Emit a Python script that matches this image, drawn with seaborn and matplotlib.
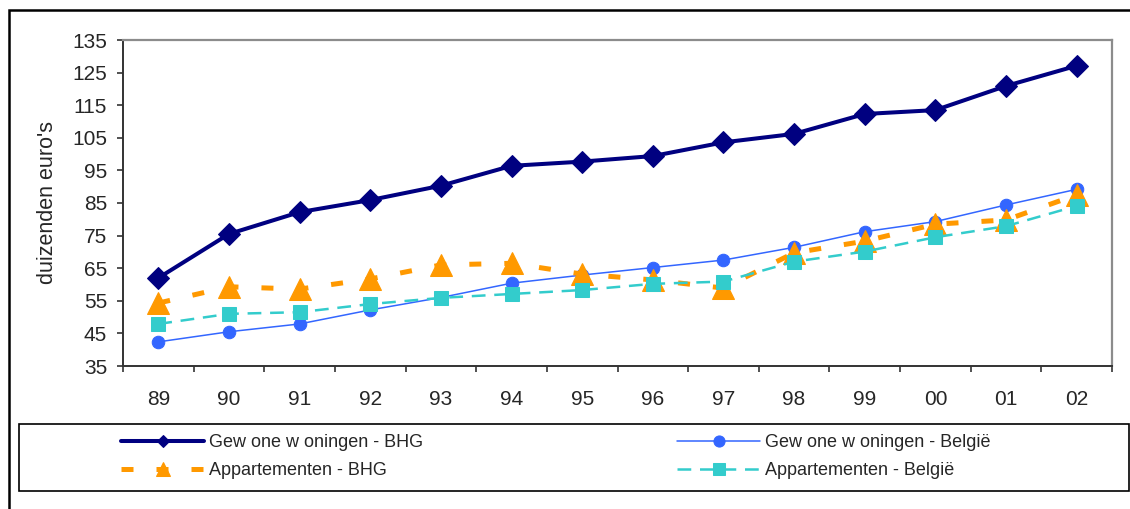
import pandas as pd
import seaborn as sns
import matplotlib.pyplot as plt
from matplotlib.patches import Rectangle

# Chart values
years = ["89", "90", "91", "92", "93", "94", "95", "96", "97", "98", "99", "00", "01", "02"]
houses_bhg = [62.0, 75.5, 82.2, 85.9, 90.3, 96.4, 97.7, 99.4, 103.6, 106.2, 112.3, 113.5, 120.9, 127.1]
houses_be = [42.4, 45.5, 47.9, 52.2, 56.0, 60.4, 62.9, 65.2, 67.5, 71.4, 76.2, 79.3, 84.4, 89.2]
apt_bhg = [54.3, 59.3, 58.6, 61.7, 66.0, 66.5, 63.2, 61.4, 58.9, 69.7, 73.3, 78.5, 79.8, 87.5]
apt_be = [47.9, 51.0, 51.5, 54.0, 55.9, 57.1, 58.3, 60.2, 60.9, 67.0, 70.1, 74.5, 77.9, 84.1]

labels = [
    "Gew one w oningen - BHG",
    "Gew one w oningen - België",
    "Appartementen - BHG",
    "Appartementen - België",
]
yticks = list(range(35, 136, 10))

df = pd.DataFrame({
    "jaar": years,
    "houses_bhg": houses_bhg,
    "houses_be": houses_be,
    "apt_bhg": apt_bhg,
    "apt_be": apt_be,
})

sns.set_style("white")
plt.rcParams["font.family"] = ["Liberation Sans", "DejaVu Sans"]

fig = plt.figure(figsize=(11.3, 5.09), dpi=100)
ax = fig.add_axes([123 / 1130, 1 - 366 / 509, (1112 - 123) / 1130, (366 - 40) / 509])

# series styles: column, colour, marker, size, line width, dashes, legend marker size
styles = [
    ("houses_bhg", "#000080", "D", 11.5, 2.9, None, 6.6),
    ("houses_be", "#3366FF", "o", 9.0, 1.1, None, 8.0),
    ("apt_bhg", "#FF9900", "^", 16, 3.6, (2.4, 4.6), 10.5),
    ("apt_be", "#33CCCC", "s", 10.5, 1.8, (5.5, 3.5), 8.5),
]

lines = {}
for (col, color, marker, ms, lw, dash, _), lab in zip(styles, labels):
    sns.lineplot(
        data=df, x="jaar", y=col, ax=ax, sort=False, legend=False,
        color=color, marker=marker, markersize=ms, linewidth=lw,
        markeredgecolor=color, markerfacecolor=color, label=lab,
    )
    line = ax.lines[-1]
    if dash is not None:
        line.set_dashes(dash)
    lines[col] = line

# axes
ax.set_ylim(35, 135)
ax.set_yticks(yticks)
ax.set_xlim(-0.5, len(years) - 0.5)
ax.set_xticks(range(len(years)))
ax.set_xticklabels(years)
ax.set_xticks([i - 0.5 for i in range(len(years) + 1)], minor=True)
ax.tick_params(axis="x", which="major", length=0, pad=17, labelsize=15)
ax.tick_params(axis="x", which="minor", length=4.5, width=1.2, color="#333333", direction="out", bottom=True)
ax.tick_params(axis="y", length=4.5, width=1.2, color="#333333", direction="out", left=True, pad=7, labelsize=15)
ax.set_xlabel("")
ax.set_ylabel("duizenden euro's", fontsize=15.5, labelpad=10)

for side in ["left", "bottom"]:
    ax.spines[side].set_color("#333333")
    ax.spines[side].set_linewidth(1.4)
for side in ["top", "right"]:
    ax.spines[side].set_color("#8c8c8c")
    ax.spines[side].set_linewidth(1.6)

# legend: two columns placed separately, frame drawn as a patch
legend_font = {"family": ["Liberation Sans"], "size": 13}
leg_kw = dict(
    loc="upper left", frameon=False, prop=legend_font, handlelength=4.6,
    handletextpad=0.25, borderpad=0, borderaxespad=0, labelspacing=0.6,
)
leg_size = {s[0]: s[6] for s in styles}
for cols, labs, x0 in [(["houses_bhg", "apt_bhg"], [labels[0], labels[2]], 121),
                       (["houses_be", "apt_be"], [labels[1], labels[3]], 677)]:
    leg = fig.legend([lines[c] for c in cols], labs,
                     bbox_to_anchor=(x0 / 1130, 1 - 434 / 509), **leg_kw)
    for h, c in zip(leg.legend_handles, cols):
        h.set_markersize(leg_size[c])

fig.patches.append(Rectangle((19 / 1130, 1 - 491 / 509), (1129 - 19) / 1130, 67 / 509,
                             transform=fig.transFigure, fill=False, edgecolor="black",
                             linewidth=1.2))
# outer chart border
fig.patches.append(Rectangle((9 / 1130, -0.05), 1.2, 1.05 - 10 / 509,
                             transform=fig.transFigure, fill=False, edgecolor="black",
                             linewidth=1.8))

fig.savefig("out.png", dpi=100)
